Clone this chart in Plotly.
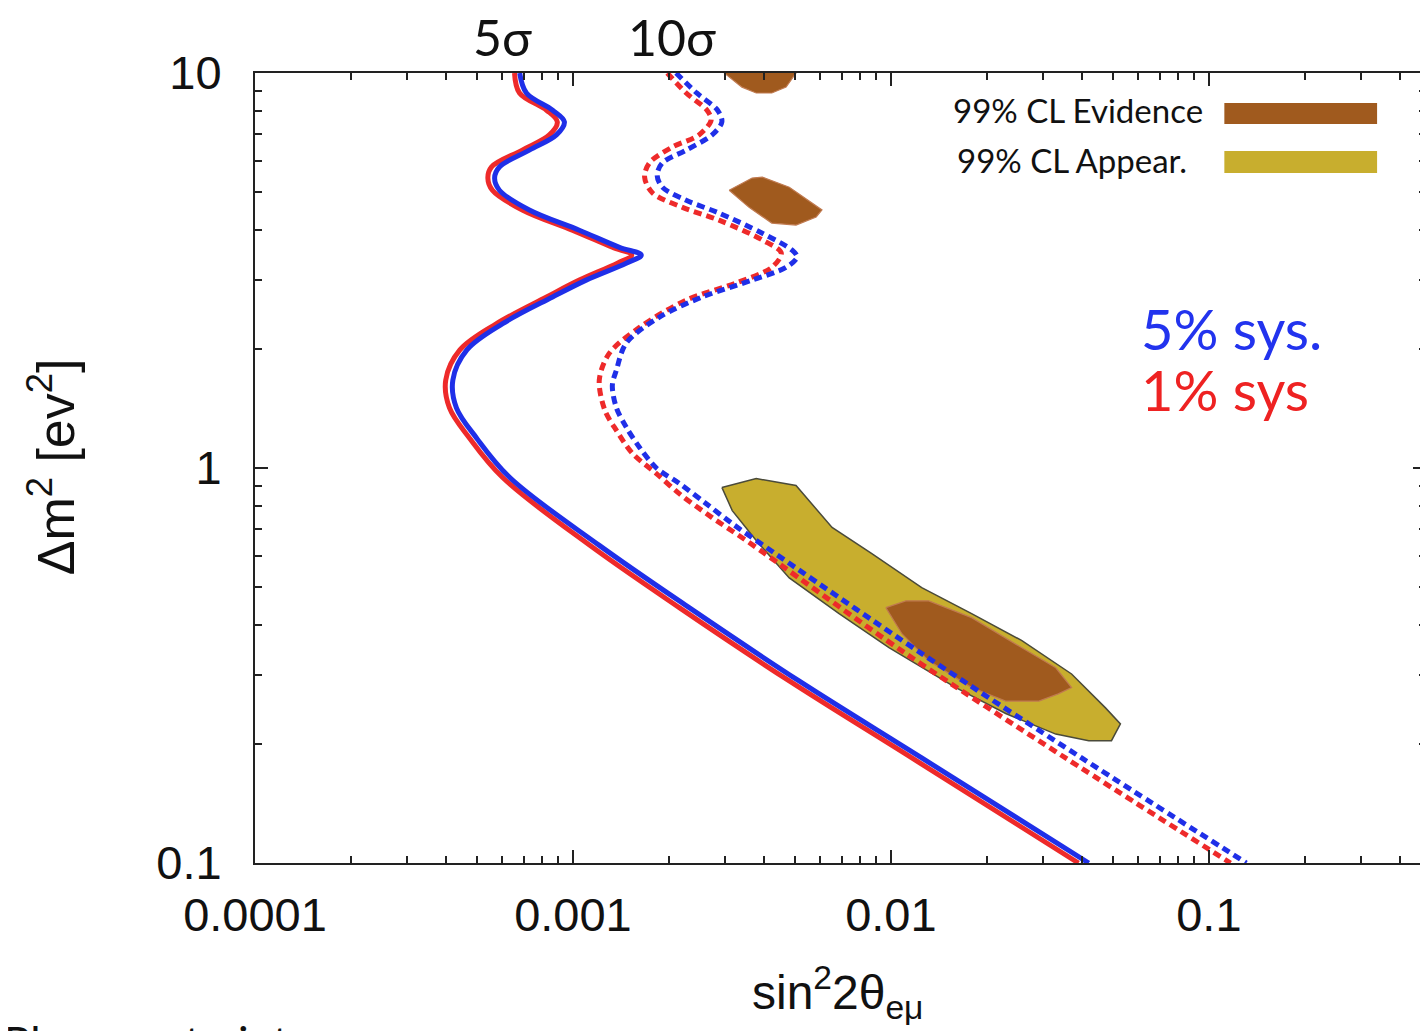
import plotly.graph_objects as go

# ---------------- data ----------------
# 5 sigma contours (solid): shared dm2 values, sin^2 2theta for 5% and 1% syst.
solid_dm2 = [10, 8.90, 8.05, 7.52, 6.97, 6.38, 5.78, 5.42, 5.05, 4.50, 4.00, 3.62, 3.46,
             3.30, 2.99, 2.71, 2.32, 1.99, 1.67, 1.42, 1.19, 0.946, 0.637, 0.443, 0.289,
             0.1845, 0.1]
solid_sys5 = [6.8e-4, 7.14e-4, 8.63e-4, 9.40e-4, 8.87e-4, 7.29e-4, 5.87e-4, 5.67e-4, 5.87e-4,
              7.29e-4, 1.047e-3, 1.40e-3, 1.64e-3, 1.47e-3, 1.10e-3, 8.63e-4, 6.01e-4, 4.64e-4,
              4.19e-4, 4.30e-4, 4.98e-4, 6.33e-4, 1.21e-3, 2.32e-3, 5.14e-3, 0.0125, 0.0419]
solid_sys1 = [6.55e-4, 6.79e-4, 8.26e-4, 8.93e-4, 8.43e-4, 6.93e-4, 5.54e-4, 5.40e-4, 5.58e-4,
              6.93e-4, 9.95e-4, 1.33e-3, 1.53e-3, 1.38e-3, 1.047e-3, 8.26e-4, 5.75e-4, 4.41e-4,
              3.98e-4, 4.09e-4, 4.73e-4, 6.01e-4, 1.13e-3, 2.16e-3, 4.79e-3, 0.01164, 0.0389]

# 10 sigma contours (dashed)
dash_sys5_x = [2.11e-3, 2.45e-3, 2.85e-3, 2.94e-3, 2.74e-3, 2.27e-3, 1.91e-3, 1.84e-3, 1.91e-3,
               2.27e-3, 2.88e-3, 3.94e-3, 4.89e-3, 5.07e-3, 4.68e-3, 3.66e-3, 2.55e-3, 1.87e-3,
               1.47e-3, 1.37e-3, 1.33e-3, 1.37e-3, 1.47e-3, 1.62e-3, 1.83e-3, 2.16e-3, 2.62e-3,
               3.17e-3, 4.06e-3, 0.0125, 0.0398, 0.1312]
dash_sys5_y = [10, 8.90, 8.05, 7.52, 6.97, 6.38, 5.92, 5.51, 5.14,
               4.76, 4.42, 3.93, 3.56, 3.42, 3.22, 2.99, 2.71, 2.41,
               2.07, 1.77, 1.62, 1.42, 1.27, 1.127, 1.00, 0.914, 0.813,
               0.723, 0.629, 0.339, 0.1845, 0.1]
dash_sys1_x = [1.98e-3, 2.27e-3, 2.64e-3, 2.72e-3, 2.49e-3, 2.05e-3, 1.74e-3, 1.68e-3, 1.78e-3,
               2.21e-3, 2.88e-3, 3.94e-3, 4.52e-3, 4.22e-3, 3.26e-3, 2.27e-3, 1.62e-3, 1.30e-3,
               1.21e-3, 1.26e-3, 1.37e-3, 1.54e-3, 1.83e-3, 2.16e-3, 2.74e-3, 3.51e-3, 0.01114,
               0.0354, 0.117]
dash_sys1_y = [10, 8.90, 8.05, 7.60, 6.97, 6.49, 5.92, 5.45, 4.97,
               4.57, 4.24, 3.78, 3.50, 3.22, 2.94, 2.66, 2.27, 1.95,
               1.67, 1.40, 1.245, 1.088, 0.968, 0.861, 0.749, 0.655, 0.339,
               0.1845, 0.1]

# 99% CL appearance region (yellow)
appear_x = [2.94e-3, 3.77e-3, 5.03e-3, 5.53e-3, 6.53e-3, 8.71e-3, 0.0125, 0.01794, 0.02575,
            0.0370, 0.0473, 0.0527, 0.0494, 0.0419, 0.0330, 0.02296, 0.0160, 9.86e-3,
            6.87e-3, 4.79e-3, 3.77e-3, 3.17e-3, 2.94e-3]
appear_y = [0.893, 0.940, 0.903, 0.827, 0.707, 0.607, 0.498, 0.428, 0.366,
            0.301, 0.247, 0.225, 0.204, 0.204, 0.212, 0.239, 0.278, 0.351,
            0.428, 0.527, 0.655, 0.780, 0.893]

# 99% CL evidence regions (brown)
evid_low_x = [9.64e-3, 0.01114, 0.01315, 0.01794, 0.02575, 0.0330, 0.0370, 0.0336, 0.0292,
              0.02296, 0.01794, 0.01315, 0.01084, 9.86e-3, 9.64e-3]
evid_low_y = [0.443, 0.461, 0.461, 0.418, 0.351, 0.312, 0.278, 0.268, 0.257,
              0.257, 0.278, 0.325, 0.380, 0.428, 0.443]
evid_mid_x = [3.10e-3, 3.66e-3, 3.94e-3, 4.79e-3, 6.07e-3, 5.82e-3, 5.03e-3, 4.22e-3, 3.58e-3, 3.10e-3]
evid_mid_y = [5.05, 5.42, 5.45, 5.14, 4.50, 4.32, 4.12, 4.17, 4.57, 5.05]
evid_top_x = [2.9e-3, 5.1e-3, 5.03e-3, 4.68e-3, 4.22e-3, 3.77e-3, 3.40e-3, 2.99e-3, 2.9e-3]
evid_top_y = [11.0, 11.0, 10.0, 9.21, 8.90, 8.90, 9.21, 10.0, 11.0]

x_tickvals = [1e-4, 1e-3, 1e-2, 1e-1]
x_ticktext = ["0.0001", "0.001", "0.01", "0.1"]
y_tickvals = [0.1, 1, 10]
y_ticktext = ["0.1", "1", "10"]

# ---------------- styling ----------------
BLUE = "#1f2fe8"
RED = "#ee2a2a"
BROWN = "#a05a1e"
YELLOW = "#c8ae2e"
COMIC = "Comic Sans MS, Lato, sans-serif"
ARIAL = "Liberation Sans, Arial, sans-serif"

OFF = 8  # page body margin
W, H = 1428 - OFF, 1031 - OFF
L, R, T = 255 - OFF, 0, 73 - OFF
PLOT_H = 790
B = H - T - PLOT_H


def px(xp):
    return (xp - OFF - L) / (W - L - R)


def py(yp):
    return (H - B - (yp - OFF)) / PLOT_H


fig = go.Figure()

fig.add_trace(go.Scatter(x=appear_x, y=appear_y, mode="lines", fill="toself",
                         fillcolor=YELLOW, line=dict(color="#4a4a3a", width=1.5),
                         showlegend=False, hoverinfo="skip"))
for ex, ey in [(evid_low_x, evid_low_y), (evid_mid_x, evid_mid_y), (evid_top_x, evid_top_y)]:
    fig.add_trace(go.Scatter(x=ex, y=ey, mode="lines", fill="toself", fillcolor=BROWN,
                             line=dict(color="#c07a50", width=1.2),
                             showlegend=False, hoverinfo="skip"))

DASH = "8px,5px"
fig.add_trace(go.Scatter(x=dash_sys1_x, y=dash_sys1_y, mode="lines",
                         line=dict(color=RED, width=5, dash=DASH, shape="spline", smoothing=0.9),
                         showlegend=False))
fig.add_trace(go.Scatter(x=dash_sys5_x, y=dash_sys5_y, mode="lines",
                         line=dict(color=BLUE, width=5, dash=DASH, shape="spline", smoothing=0.9),
                         showlegend=False))
fig.add_trace(go.Scatter(x=solid_sys1, y=solid_dm2, mode="lines",
                         line=dict(color=RED, width=5, shape="spline", smoothing=1.0),
                         showlegend=False))
fig.add_trace(go.Scatter(x=solid_sys5, y=solid_dm2, mode="lines",
                         line=dict(color=BLUE, width=5, shape="spline", smoothing=1.0),
                         showlegend=False))

x_minor = [k * 10.0 ** e for e in range(-4, 0) for k in range(2, 10)]
y_minor = [k * 10.0 ** e for e in range(-1, 1) for k in range(2, 10)]

axis_common = dict(type="log", showgrid=False, zeroline=False, showline=True,
                   linecolor="#222", linewidth=2, mirror="ticks", ticks="inside",
                   ticklen=13, tickwidth=1.5, tickcolor="#222",
                   tickfont=dict(family=ARIAL, size=47, color="#111"))

fig.update_xaxes(range=[-4, -4 + (W - L - R) / 318.5], tickmode="array",
                 tickvals=x_tickvals, ticktext=x_ticktext, ticklabelstandoff=10,
                 minor=dict(tickmode="array", tickvals=x_minor, ticks="inside", ticklen=7,
                            tickwidth=1.5, tickcolor="#222"),
                 **axis_common)
fig.update_yaxes(range=[-1, 1], tickmode="array", tickvals=y_tickvals, ticktext=y_ticktext,
                 ticklabelstandoff=22,
                 minor=dict(tickmode="array", tickvals=y_minor, ticks="inside", ticklen=7,
                            tickwidth=1.5, tickcolor="#222"),
                 **axis_common)

annotations = [
    dict(x=px(838), y=py(992), text="sin<sup>2</sup>2θ<sub>eμ</sub>",
         font=dict(family=ARIAL, size=48, color="#111")),
    dict(x=px(52), y=py(467), text="Δm<sup>2</sup> [ev<sup>2</sup>]", textangle=-90,
         font=dict(family=ARIAL, size=52, color="#111")),
    dict(x=px(503), y=py(37), text="5σ", font=dict(family=COMIC, size=50, color="#111")),
    dict(x=px(673), y=py(37), text="10σ", font=dict(family=COMIC, size=50, color="#111")),
    dict(x=px(1207), y=py(110), text="99% CL Evidence", xanchor="right",
         font=dict(family=COMIC, size=33, color="#111")),
    dict(x=px(1191), y=py(160), text="99% CL Appear.", xanchor="right",
         font=dict(family=COMIC, size=33, color="#111")),
    dict(x=px(1141), y=py(328), text="5% sys.", xanchor="left",
         font=dict(family=COMIC, size=56, color="#2233ee")),
    dict(x=px(1141), y=py(389), text="1% sys", xanchor="left",
         font=dict(family=COMIC, size=56, color="#ee2222")),
    dict(x=px(2), y=py(1014), text="Plus constraints", xanchor="left", yanchor="top",
         font=dict(family=COMIC, size=44, color="#111")),
]
for a in annotations:
    a.update(xref="paper", yref="paper", showarrow=False)
    a.setdefault("xanchor", "center")
    a.setdefault("yanchor", "middle")

shapes = [
    dict(type="rect", xref="paper", yref="paper", x0=px(1226), x1=px(1379),
         y0=py(124), y1=py(103), fillcolor=BROWN, line=dict(width=0)),
    dict(type="rect", xref="paper", yref="paper", x0=px(1226), x1=px(1379),
         y0=py(173), y1=py(151), fillcolor=YELLOW, line=dict(width=0)),
]

fig.update_layout(width=W, height=H, margin=dict(l=L, r=R, t=T, b=B),
                  paper_bgcolor="white", plot_bgcolor="white",
                  annotations=annotations, shapes=shapes, showlegend=False)

fig.write_html("out.html")
